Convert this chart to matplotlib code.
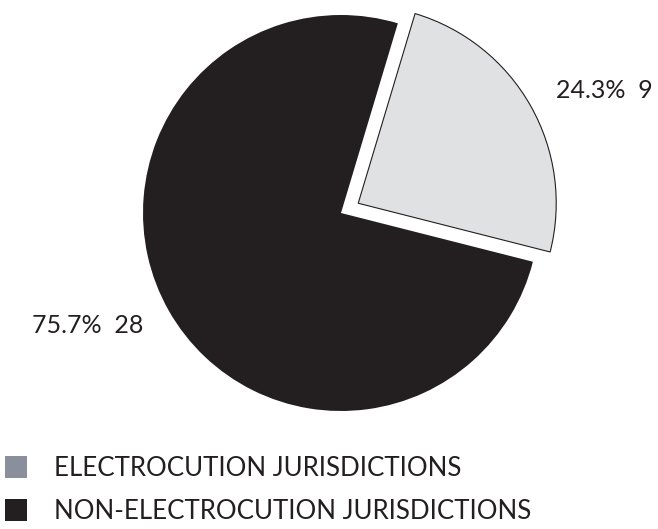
import matplotlib
matplotlib.use("Agg")
import matplotlib.pyplot as plt
from matplotlib.patches import Patch

plt.rcParams['font.family'] = ['Lato', 'DejaVu Sans']

# jurisdictions by method
categories = ["ELECTROCUTION JURISDICTIONS", "NON-ELECTROCUTION JURISDICTIONS"]
counts = [9, 28]
pcts = [24.3, 75.7]
slice_colors = ["#e0e1e3", "#231f20"]
legend_colors = ["#8b8f9b", "#231f20"]
explode = [0.1, 0.0]
text_color = "#231f20"

labels = [f"{p}%  {c}" for p, c in zip(pcts, counts)]

fig = plt.figure(figsize=(6.58, 5.29), dpi=100)
ax = fig.add_axes([0, 0, 1, 1])

wedges, texts = ax.pie(counts, colors=slice_colors, explode=explode,
                       startangle=-14.25, counterclock=True,
                       labels=labels, labeldistance=1.15,
                       textprops=dict(fontsize=18, color=text_color))
wedges[0].set_edgecolor("#231f20")
wedges[0].set_linewidth(0.8)
wedges[1].set_edgecolor("none")

# put the unit circle where it sits on the page
ax.set_xlim(-341 / 198, (658 - 341) / 198)
ax.set_ylim(-(529 - 213) / 198, 213 / 198)
ax.set_aspect("equal")
ax.axis("off")

handles = [Patch(facecolor=c, edgecolor="none") for c in legend_colors]
fig.legend(handles, categories, loc="lower left", bbox_to_anchor=(0.0, 0.0),
           frameon=False, fontsize=18.6, labelcolor=text_color,
           handlelength=0.83, handleheight=0.95, handletextpad=1.05,
           labelspacing=0.7, borderaxespad=0.1, borderpad=0.1)

fig.savefig("out.png", dpi=100)
